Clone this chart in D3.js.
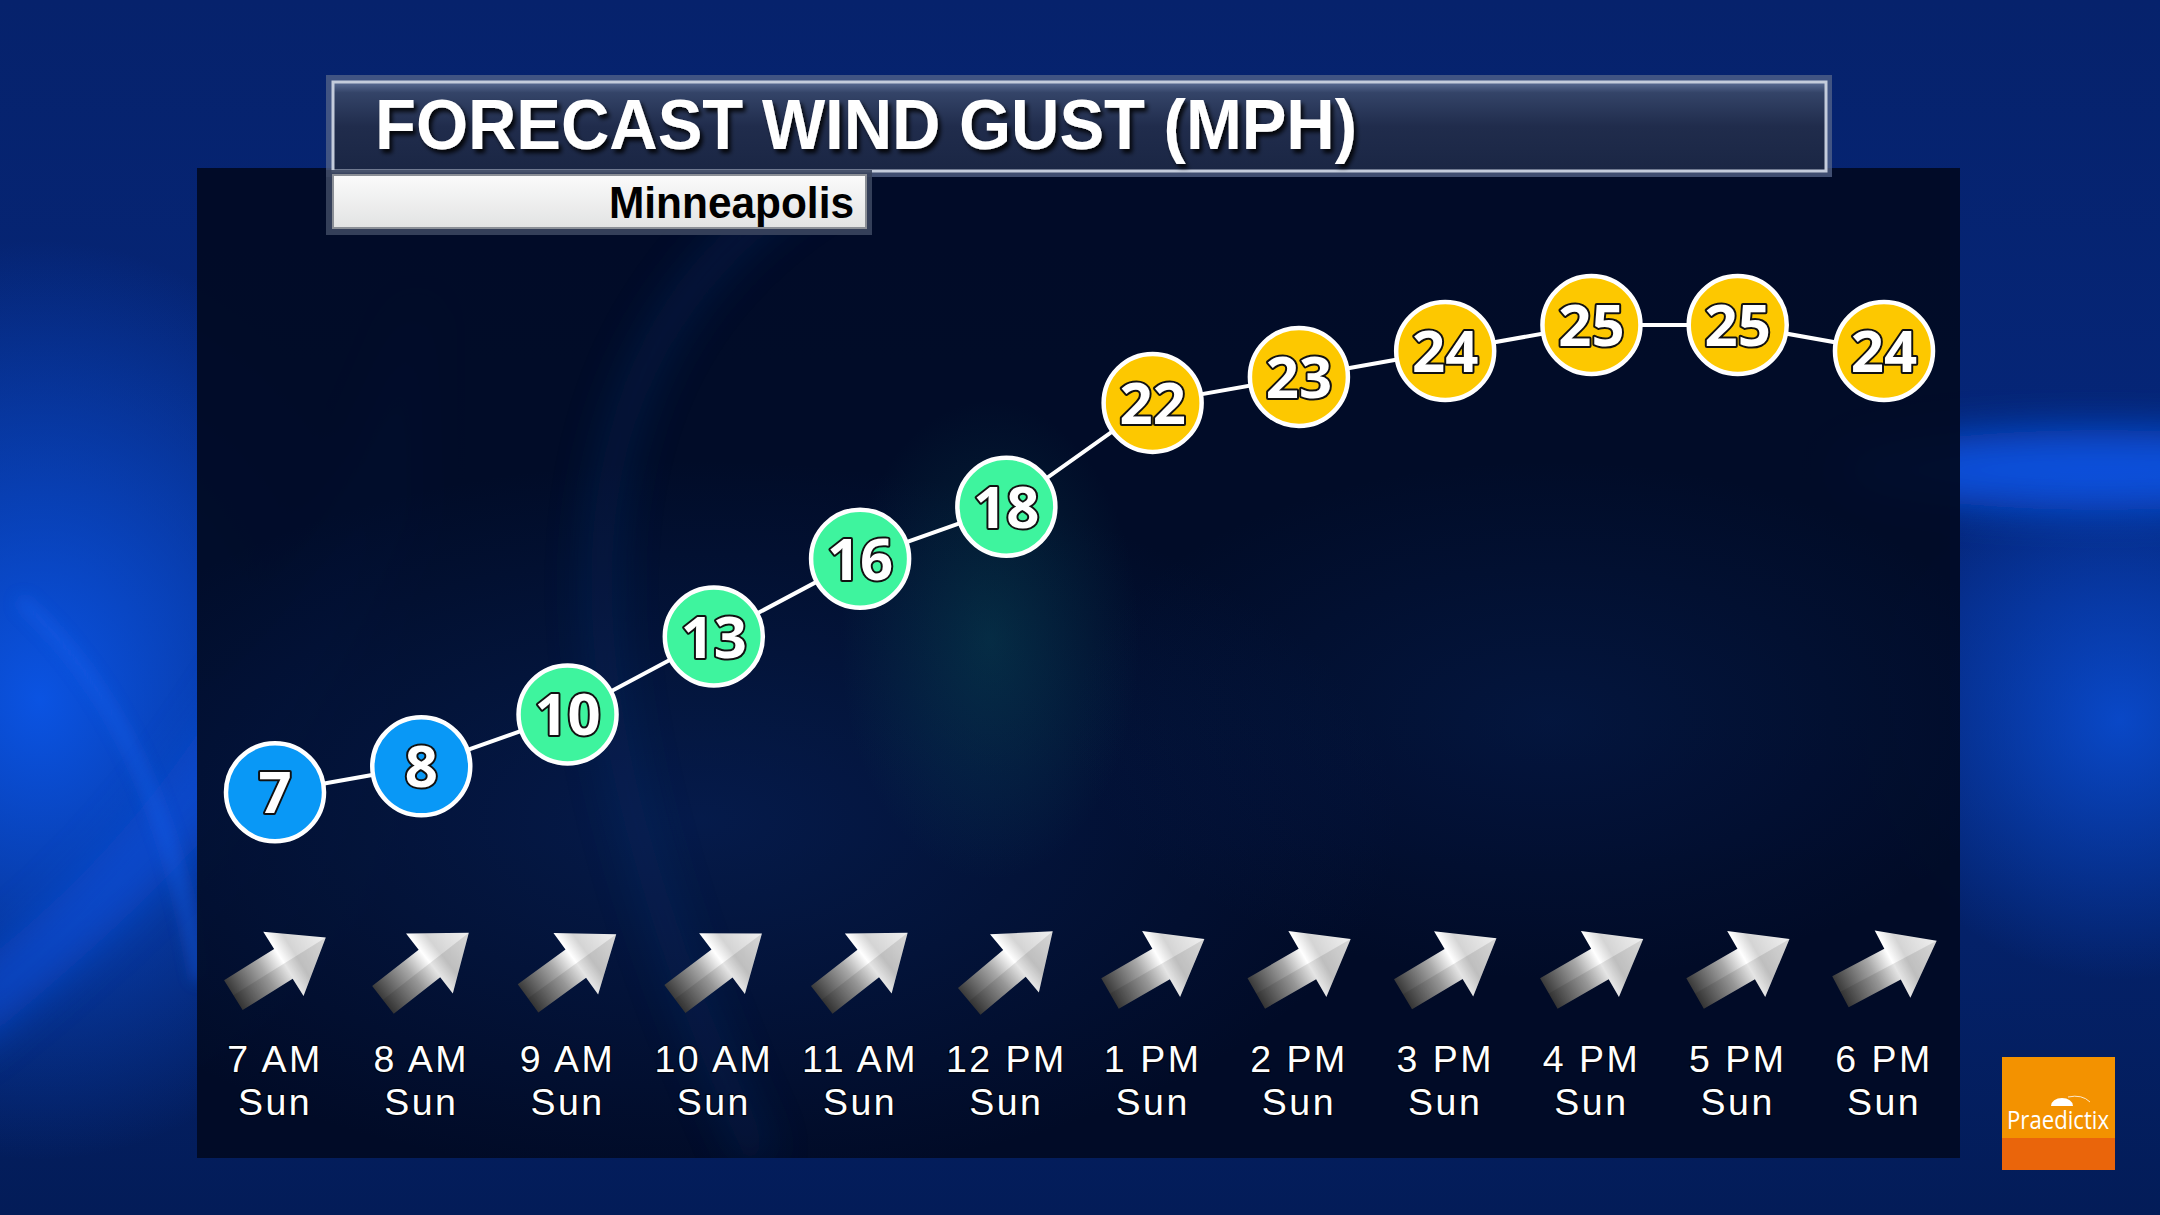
<!DOCTYPE html>
<html>
<head>
<meta charset="utf-8">
<script src="https://cdn.jsdelivr.net/npm/d3@7"></script>
<style>
  html, body { margin: 0; padding: 0; background: #03205f; overflow: hidden; }
  svg { display: block; }
</style>
</head>
<body>
<div id="canvas"></div>
<script>
// forecast values
const hours = ["7 AM", "8 AM", "9 AM", "10 AM", "11 AM", "12 PM", "1 PM", "2 PM", "3 PM", "4 PM", "5 PM", "6 PM"];
const days = ["Sun", "Sun", "Sun", "Sun", "Sun", "Sun", "Sun", "Sun", "Sun", "Sun", "Sun", "Sun"];
const gusts = [7, 8, 10, 13, 16, 18, 22, 23, 24, 25, 25, 24];
// direction the wind arrow points, degrees above the horizontal
const windAngle = [32, 38, 36, 37, 38, 40, 30, 30, 31, 30, 30, 28];

const W = 2160, H = 1215;

const svg = d3.select("#canvas").append("svg")
  .attr("width", W)
  .attr("height", H);

const defs = svg.append("defs");

// ---------- gradients / filters
const blur = (id, s) => defs.append("filter").attr("id", id)
  .attr("x", "-50%").attr("y", "-50%").attr("width", "200%").attr("height", "200%")
  .append("feGaussianBlur").attr("stdDeviation", s);
blur("blur40", 40);
blur("blur20", 20);
blur("blur8", 8);

const lin = (id, x1, y1, x2, y2, stops) => {
  const g = defs.append("linearGradient").attr("id", id)
    .attr("x1", x1).attr("y1", y1).attr("x2", x2).attr("y2", y2);
  stops.forEach(s => g.append("stop").attr("offset", s[0]).attr("stop-color", s[1]).attr("stop-opacity", s[2] == null ? 1 : s[2]));
};
const rad = (id, stops) => {
  const g = defs.append("radialGradient").attr("id", id);
  stops.forEach(s => g.append("stop").attr("offset", s[0]).attr("stop-color", s[1]).attr("stop-opacity", s[2] == null ? 1 : s[2]));
};

lin("bgGrad", 0, 0, 0, 1, [[0, "#06226c"], [0.5, "#05277c"], [1, "#031c58"]]);
lin("titleGrad", 0, 0, 0, 1, [[0, "#5c6e96"], [0.12, "#344468"], [0.5, "#202c4c"], [1, "#1a2644"]]);
lin("subGrad", 0, 0, 0, 1, [[0, "#fbfbfb"], [1, "#e2e3e3"]]);
lin("arrowGrad", 0, 0, 1, 0, [[0, "#3a3a3a"], [0.35, "#a8a8a8"], [0.55, "#ffffff"], [0.68, "#d4d4d4"], [1, "#f0f0f0"]]);
rad("glowBlue", [[0, "#0b56e8", 0.95], [1, "#0b56e8", 0]]);
rad("glowSoft", [[0, "#0d3a90", 0.6], [1, "#0d3a90", 0]]);
rad("glowTeal", [[0, "#0c6a6a", 0.3], [1, "#0c6a6a", 0]]);

const shadow = defs.append("filter").attr("id", "shadow")
  .attr("x", "-10%").attr("y", "-20%").attr("width", "130%").attr("height", "160%");
shadow.append("feDropShadow").attr("dx", 3).attr("dy", 4).attr("stdDeviation", 2)
  .attr("flood-color", "#000").attr("flood-opacity", 0.85);

// ---------- background
const bg = svg.append("g");
bg.append("rect").attr("width", W).attr("height", H).attr("fill", "url(#bgGrad)");
bg.append("ellipse").attr("cx", 40).attr("cy", 700).attr("rx", 380).attr("ry", 460)
  .attr("fill", "url(#glowBlue)");
bg.append("path")
  .attr("d", "M -40 980 C 120 860 260 700 420 300 L 420 520 C 300 760 160 900 -40 1060 Z")
  .attr("fill", "#0a4fdc").attr("opacity", 0.6).attr("filter", "url(#blur20)");
bg.append("path")
  .attr("d", "M 20 600 C 110 680 170 800 200 980")
  .attr("fill", "none").attr("stroke", "#1a62f0").attr("stroke-width", 10)
  .attr("opacity", 0.6).attr("filter", "url(#blur8)");
bg.append("ellipse").attr("cx", 2100).attr("cy", 470).attr("rx", 260).attr("ry", 40)
  .attr("fill", "#0a55e6").attr("opacity", 0.9).attr("filter", "url(#blur20)");
bg.append("ellipse").attr("cx", 2120).attr("cy", 720).attr("rx", 260).attr("ry", 260)
  .attr("fill", "url(#glowBlue)").attr("opacity", 0.75);

// ---------- dark panel
const panel = { x: 197, y: 168, w: 1763, h: 990 };
defs.append("clipPath").attr("id", "panelClip")
  .append("rect").attr("x", panel.x).attr("y", panel.y).attr("width", panel.w).attr("height", panel.h);

const pg = svg.append("g").attr("clip-path", "url(#panelClip)");
pg.append("rect").attr("x", panel.x).attr("y", panel.y).attr("width", panel.w).attr("height", panel.h)
  .attr("fill", "#010b24").attr("opacity", 0.95);
pg.append("ellipse").attr("cx", 700).attr("cy", 820).attr("rx", 700).attr("ry", 360)
  .attr("fill", "url(#glowSoft)").attr("opacity", 0.55);
pg.append("ellipse").attr("cx", 990).attr("cy", 640).attr("rx", 150).attr("ry", 240)
  .attr("fill", "url(#glowTeal)");
pg.append("ellipse").attr("cx", 1550).attr("cy", 720).attr("rx", 480).attr("ry", 260)
  .attr("fill", "url(#glowSoft)").attr("opacity", 0.35);
pg.append("path")
  .attr("d", "M 830 170 C 560 330 520 640 760 1160")
  .attr("fill", "none").attr("stroke", "#103070").attr("stroke-width", 30)
  .attr("opacity", 0.35).attr("filter", "url(#blur20)");

// ---------- title boxes
const tb = svg.append("g");
tb.append("rect").attr("x", 326).attr("y", 75).attr("width", 1506).attr("height", 102)
  .attr("fill", "#56668a").attr("opacity", 0.75);
tb.append("rect").attr("x", 333).attr("y", 82).attr("width", 1493).attr("height", 89)
  .attr("fill", "url(#titleGrad)").attr("stroke", "#c4ccdc").attr("stroke-width", 3);
tb.append("text")
  .attr("x", 375).attr("y", 149)
  .attr("textLength", 982).attr("lengthAdjust", "spacingAndGlyphs")
  .attr("font-family", "'Liberation Sans', Arial, sans-serif")
  .attr("font-weight", 700).attr("font-size", 70)
  .attr("fill", "#ffffff").attr("filter", "url(#shadow)")
  .text("FORECAST WIND GUST (MPH)");

tb.append("rect").attr("x", 326).attr("y", 170).attr("width", 546).attr("height", 65)
  .attr("fill", "#3a455e").attr("opacity", 0.9);
tb.append("rect").attr("x", 333).attr("y", 175).attr("width", 533).attr("height", 53)
  .attr("fill", "url(#subGrad)").attr("stroke", "#8b8f96").attr("stroke-width", 2);
tb.append("text")
  .attr("x", 854).attr("y", 218).attr("text-anchor", "end")
  .attr("textLength", 245).attr("lengthAdjust", "spacingAndGlyphs")
  .attr("font-family", "'Liberation Sans', Arial, sans-serif")
  .attr("font-weight", 700).attr("font-size", 44)
  .attr("fill", "#000000")
  .text("Minneapolis");

// ---------- scales
const x = d3.scalePoint().domain(hours).range([275, 1884]);
const y = d3.scaleLinear().domain([0, 25]).range([974, 325]);
const color = d3.scaleThreshold().domain([10, 20]).range(["#0998f6", "#3ef49e", "#fdc800"]);

const series = hours.map((h, i) => ({ hour: h, day: days[i], gust: gusts[i], angle: windAngle[i] }));

// ---------- connecting line
const line = d3.line().x(d => x(d.hour)).y(d => y(d.gust));
svg.append("path").datum(series)
  .attr("d", line)
  .attr("fill", "none").attr("stroke", "#ffffff").attr("stroke-width", 4);

// ---------- circles
const pts = svg.append("g").selectAll("g").data(series).enter().append("g")
  .attr("transform", d => `translate(${x(d.hour)},${y(d.gust)})`);
pts.append("circle").attr("r", 49)
  .attr("fill", d => color(d.gust))
  .attr("stroke", "#ffffff").attr("stroke-width", 4.5);
pts.append("text")
  .attr("text-anchor", "middle").attr("y", 21)
  .attr("font-family", "'Open Sans', 'Noto Sans', sans-serif")
  .attr("font-weight", 700).attr("font-size", 58)
  .attr("fill", "#ffffff").attr("stroke", "#111").attr("stroke-width", 4)
  .attr("stroke-linejoin", "round").attr("paint-order", "stroke")
  .text(d => d.gust);

// ---------- wind arrows
const arrowPath = "M -55 -17.5 L 4 -17.5 L 4 -38 L 54 0 L 4 38 L 4 17.5 L -55 17.5 Z";
const arrowLow = "M -55 0 L 54 0 L 4 38 L 4 17.5 L -55 17.5 Z";
const arrows = svg.append("g").selectAll("g").data(series).enter().append("g")
  .attr("transform", d => `translate(${x(d.hour) + 5},966) rotate(${-d.angle})`);
arrows.append("path").attr("d", arrowPath).attr("fill", "url(#arrowGrad)");
arrows.append("path").attr("d", arrowLow).attr("fill", "#000").attr("opacity", 0.1);

// ---------- time labels
const labels = svg.append("g")
  .attr("font-family", "'Liberation Sans', Arial, sans-serif")
  .attr("font-size", 37.5)
  .attr("fill", "#ffffff").attr("stroke", "#000").attr("stroke-opacity", 0.6)
  .attr("stroke-width", 2.5).attr("paint-order", "stroke")
  .attr("letter-spacing", 2.5).attr("text-anchor", "middle");
labels.selectAll(".hr").data(series).enter().append("text")
  .attr("class", "hr")
  .attr("x", d => x(d.hour)).attr("y", 1072).text(d => d.hour);
labels.selectAll(".dy").data(series).enter().append("text")
  .attr("class", "dy")
  .attr("x", d => x(d.hour)).attr("y", 1115).text(d => d.day);

// ---------- logo
const logo = svg.append("g");
logo.append("rect").attr("x", 2002).attr("y", 1057).attr("width", 113).attr("height", 81).attr("fill", "#f39200");
logo.append("rect").attr("x", 2002).attr("y", 1138).attr("width", 113).attr("height", 32).attr("fill", "#ea650b");
logo.append("path").attr("d", "M 2051 1106 A 11 8 0 0 1 2073 1106 Z").attr("fill", "#ffffff");
logo.append("path").attr("d", "M 2068 1097 Q 2082 1094 2090 1102")
  .attr("fill", "none").attr("stroke", "#ffffff").attr("stroke-width", 1).attr("opacity", 0.8);
logo.append("text").attr("x", 2058).attr("y", 1129).attr("text-anchor", "middle")
  .attr("font-family", "'Open Sans', 'Noto Sans', sans-serif")
  .attr("font-size", 25).attr("fill", "#ffffff")
  .attr("textLength", 102).attr("lengthAdjust", "spacingAndGlyphs")
  .text("Praedictix");
</script>
</body>
</html>
